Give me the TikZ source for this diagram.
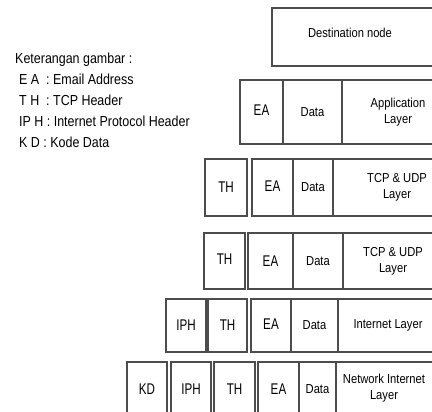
\documentclass[tikz,border=0pt]{standalone}
\usepackage{fontspec}
\setmainfont{Liberation Sans}
\newfontfamily\hdrfont[FakeStretch=0.75]{Liberation Sans}
\newfontfamily\txtfont[FakeStretch=0.86]{Liberation Sans}
\newcommand\upsix[1]{\raisebox{6pt}{#1}}
\begin{document}
\begin{tikzpicture}[x=1pt,y=-1pt,
  cell/.style={draw=black!70, line width=1.2pt, inner sep=0pt, outer sep=0pt,
    anchor=north west, align=center, font=\txtfont\fontsize{13}{16}\selectfont},
  hdr/.style={cell, font=\hdrfont\fontsize{15.5}{17}\selectfont},
  legend/.style={anchor=base west, inner sep=0pt, font=\txtfont\fontsize{14.5}{16}\selectfont},
  lbl/.style={inner sep=0pt, align=center, font=\txtfont\fontsize{13}{16}\selectfont}]
\useasboundingbox (0,0) rectangle (432,412);
\clip (0,0) rectangle (432,412);
% legend
\node[legend] (leg0) at (15,64) {Keterangan gambar :};
\node[legend] (leg1) at (19,85) {E A\ \ : Email Address};
\node[legend] (leg2) at (19,106) {T H\ \ : TCP Header};
\node[legend] (leg3) at (19,127) {IP H : Internet Protocol Header};
\node[legend] (leg4) at (19,148) {K D : Kode Data};
% row 1
\node[cell, minimum width=180pt, minimum height=58pt] (dest) at (272,8) {};
\node[lbl] (destt) at (350,33) {Destination node};
% row 2
\node[hdr, minimum width=43pt, minimum height=64pt] (r2ea) at (240,80) {\raisebox{3pt}{EA}};
\node[cell, minimum width=59pt, minimum height=64pt] (r2da) at (283,80) {Data};
\node[cell, minimum width=112pt, minimum height=64pt] (r2ly) at (342,80) {Application\\Layer};
% row 3
\node[hdr, minimum width=42pt, minimum height=57pt] (r3th) at (205,159) {TH};
\node[hdr, minimum width=41pt, minimum height=57pt] (r3ea) at (252,159) {\raisebox{2pt}{EA}};
\node[cell, minimum width=40pt, minimum height=57pt] (r3da) at (293,159) {Data};
\node[cell, minimum width=128pt, minimum height=57pt] (r3ly) at (333,159) {TCP \& UDP\\Layer};
% row 4
\node[hdr, minimum width=41pt, minimum height=56pt] (r4th) at (204,233) {\raisebox{3pt}{TH}};
\node[hdr, minimum width=45pt, minimum height=56pt] (r4ea) at (248,233) {EA};
\node[cell, minimum width=50pt, minimum height=56pt] (r4da) at (293,233) {Data};
\node[cell, minimum width=100pt, minimum height=56pt] (r4ly) at (343,233) {TCP \& UDP\\Layer};
% row 5
\node[hdr, minimum width=40pt, minimum height=53pt] (r5ip) at (166,299) {IPH};
\node[hdr, minimum width=39pt, minimum height=53pt] (r5th) at (208,299) {TH};
\node[hdr, minimum width=40pt, minimum height=53pt] (r5ea) at (251,299) {\raisebox{2pt}{EA}};
\node[cell, minimum width=47pt, minimum height=53pt] (r5da) at (291,299) {Data};
\node[cell, minimum width=100pt, minimum height=53pt] (r5ly) at (338,299) {Internet Layer};
% row 6
\node[hdr, minimum width=40pt, minimum height=60pt] (r6kd) at (127,362) {\upsix{KD}};
\node[hdr, minimum width=40pt, minimum height=60pt] (r6ip) at (171,362) {\upsix{IPH}};
\node[hdr, minimum width=41pt, minimum height=60pt] (r6th) at (214,362) {\upsix{TH}};
\node[hdr, minimum width=41pt, minimum height=60pt] (r6ea) at (258,362) {\upsix{EA}};
\node[cell, minimum width=37pt, minimum height=60pt] (r6da) at (299,362) {\upsix{Data}};
\node[cell, minimum width=100pt, minimum height=60pt] (r6ly) at (336,362) {};
\node[lbl] (r6lyt) at (384,388) {Network Internet\\Layer};
\end{tikzpicture}
\end{document}
